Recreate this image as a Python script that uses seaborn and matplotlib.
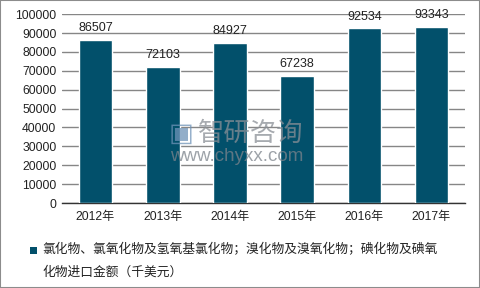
import numpy as np
import pandas as pd
import seaborn as sns
import matplotlib.pyplot as plt
from matplotlib.patches import Rectangle

years = ['2012年', '2013年', '2014年', '2015年', '2016年', '2017年']
values = [86507, 72103, 84927, 67238, 92534, 93343]
label_lines = ['氯化物、氯氧化物及氢氧基氯化物；溴化物及溴氧化物；碘化物及碘氧',
               '化物进口金额（千美元）']
bar_color = '#02506B'

sns.set_theme(style='white')
plt.rcParams['font.family'] = ['Liberation Sans', 'Noto Sans CJK SC', 'DejaVu Sans']

df = pd.DataFrame({'year': years, 'value': values})

fig = plt.figure(figsize=(4.8, 2.88), dpi=100)
ax = fig.add_axes([0.129, 0.295, 0.84, 0.656])

sns.barplot(data=df, x='year', y='value', color=bar_color, width=0.5,
            saturation=1, ax=ax, zorder=3)

ax.set_ylim(0, 100000)
ax.set_yticks(np.arange(0, 100001, 10000))
ax.yaxis.grid(True, color='#868686', linewidth=1, zorder=0)
ax.set_xlabel('')
ax.set_ylabel('')
for s in ['top', 'right', 'left']:
    ax.spines[s].set_visible(False)
ax.spines['bottom'].set_color('#333333')
ax.spines['bottom'].set_linewidth(1)
ax.tick_params(axis='both', length=0, labelsize=8.7, colors='#222222')
ax.tick_params(axis='x', pad=6)
ax.tick_params(axis='y', pad=4)

for c in ax.containers:
    ax.bar_label(c, labels=[str(v) for v in values], padding=4,
                 fontsize=9, color='#222222')

# watermark
fig.text(0.412, 0.538, '智研咨询', fontsize=19, color='#8a8f96', alpha=0.75,
         family=['Noto Sans CJK SC'], ha='left', va='center', zorder=10)
fig.text(0.352, 0.535, '▣', fontsize=19, color='#6f93b8', alpha=0.75,
         family=['DejaVu Sans'], ha='left', va='center', zorder=10)
fig.text(0.354, 0.455, 'www.chyxx.com', fontsize=13.5, color='#7d848c', alpha=0.75,
         ha='left', va='center', zorder=10)

# legend, drawn by hand so the marker sits on the first line
fig.patches.append(Rectangle((30 / 480, 1 - 254 / 288), 7 / 480, 7 / 288,
                             transform=fig.transFigure, facecolor=bar_color,
                             edgecolor='none'))
for i, line in enumerate(label_lines):
    fig.text(42 / 480, 1 - (250 + 22 * i) / 288, line, fontsize=9.2,
             color='#222222', family=['Noto Sans CJK SC', 'DejaVu Sans'],
             ha='left', va='center')

fig.patches.append(Rectangle((0, 0), 1, 1, transform=fig.transFigure,
                             fill=False, edgecolor='#8c8c8c', linewidth=1.5))

fig.savefig('out.png', dpi=100)
